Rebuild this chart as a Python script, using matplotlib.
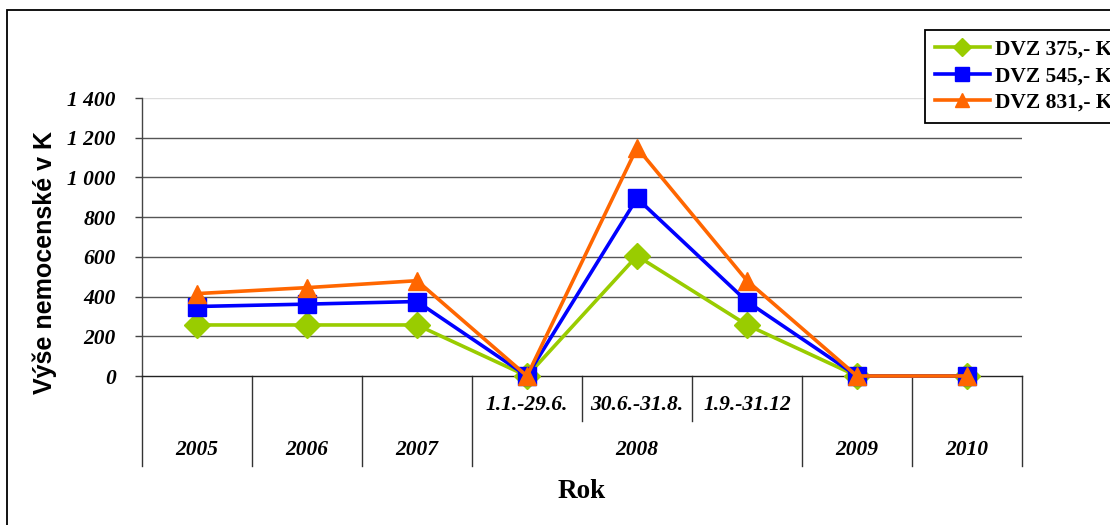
import matplotlib
matplotlib.use("Agg")
import matplotlib.pyplot as plt
from matplotlib.patches import Rectangle
from matplotlib.lines import Line2D
import matplotlib.transforms as mtransforms

# ---- data ----
sub_labels = ["", "", "", "1.1.-29.6.", "30.6.-31.8.", "1.9.-31.12", "", ""]
group_labels = ["2005", "2006", "2007", "2008", "2009", "2010"]
group_spans = [(0, 0), (1, 1), (2, 2), (3, 5), (6, 6), (7, 7)]
series_names = ["DVZ 375,- Kč", "DVZ 545,- Kč", "DVZ 831,- Kč"]
dvz375 = [257, 257, 257, 0, 605, 257, 0, 0]
dvz545 = [350, 362, 375, 0, 895, 375, 0, 0]
dvz831 = [415, 445, 480, 0, 1150, 480, 0, 0]
y_ticks = [0, 200, 400, 600, 800, 1000, 1200, 1400]

W, H = 1110, 525
fig = plt.figure(figsize=(W / 100, H / 100), dpi=100)
ax = fig.add_axes([142 / W, 1 - 376 / H, (1022 - 142) / W, (376 - 98) / H])

serif = "Liberation Serif"
sans = "Liberation Sans"
fs = 15.5

x = list(range(len(sub_labels)))
styles = [
    (dvz375, "#99CC00", "D", 12.8),
    (dvz545, "#0000FF", "s", 12.5),
    (dvz831, "#FF6600", "^", 13.5),
]
handles = []
for (vals, col, mk, ms), name in zip(styles, series_names):
    h, = ax.plot(x, vals, color=col, marker=mk, markersize=ms, linewidth=2.6,
                 markeredgecolor=col, label=name, clip_on=False, zorder=3)
    handles.append(h)

ax.set_xlim(-0.5, len(x) - 0.5)
ax.set_ylim(0, 1400)
ax.set_yticks(y_ticks)
ax.set_yticklabels([f"{v:,}".replace(",", " ") for v in y_ticks],
                   fontfamily=serif, fontweight="bold", fontstyle="italic", fontsize=fs)
ax.tick_params(axis="y", direction="out", length=5, width=1, color="#444", pad=14)
ax.set_xticks([])

for v in y_ticks[1:-1]:
    ax.axhline(v, color="#555555", linewidth=1, zorder=1)
ax.axhline(1400, color="#dddddd", linewidth=1, zorder=1)

for s in ["top", "right"]:
    ax.spines[s].set_visible(False)
ax.spines["left"].set_color("#444")
ax.spines["bottom"].set_color("#222")
ax.spines["left"].set_linewidth(1)
ax.spines["bottom"].set_linewidth(1)

trans = mtransforms.blended_transform_factory(ax.transData, ax.transAxes)
ah = 376 - 98
y_sub = -(405 - 376) / ah
y_grp = -(450 - 376) / ah
y_long = -(466 - 376) / ah
y_short = -(421 - 376) / ah

group_bounds = set()
for a, b in group_spans:
    group_bounds.add(a - 0.5)
    group_bounds.add(b + 0.5)
for xb in sorted(group_bounds):
    ax.add_line(Line2D([xb, xb], [0, y_long], transform=trans, color="#333",
                       linewidth=1, clip_on=False))
for a, b in group_spans:
    if b > a:
        for xb in range(a, b):
            ax.add_line(Line2D([xb + 0.5, xb + 0.5], [0, y_short], transform=trans,
                               color="#333", linewidth=1, clip_on=False))

for i, lab in enumerate(sub_labels):
    if lab:
        ax.text(i, y_sub, lab, transform=trans, ha="center", va="center",
                fontfamily=serif, fontweight="bold", fontstyle="italic", fontsize=fs)
for (a, b), lab in zip(group_spans, group_labels):
    ax.text((a + b) / 2, y_grp, lab, transform=trans, ha="center", va="center",
            fontfamily=serif, fontweight="bold", fontstyle="italic", fontsize=fs)

fig.text(582 / W, 1 - 492 / H, "Rok", ha="center", va="center",
         fontfamily=serif, fontweight="bold", fontsize=19.5)
fig.text(45 / W, 1 - 262 / H, "Výše nemocenské v K", ha="center", va="center",
         rotation=90, fontfamily=sans, fontweight="bold", fontsize=18)

fig.patches.append(Rectangle((7 / W, -0.05), 1.2, 1 - 10 / H + 0.05,
                             transform=fig.transFigure, fill=False,
                             edgecolor="black", linewidth=1.3))

leg = fig.legend(handles=handles, loc="upper left",
                 bbox_to_anchor=(925 / W, 1 - 30 / H),
                 prop={"family": serif, "weight": "bold", "size": 15.5},
                 frameon=True, fancybox=False, framealpha=1, edgecolor="black",
                 handlelength=2.55, handletextpad=0.25, labelspacing=0.3,
                 borderpad=0.45, borderaxespad=0, markerscale=0.75)
leg.get_frame().set_linewidth(1.3)

fig.savefig("out.png", dpi=100)
